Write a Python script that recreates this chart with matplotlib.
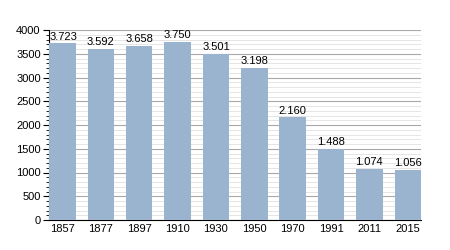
import matplotlib
matplotlib.use("Agg")
import matplotlib.pyplot as plt
from matplotlib.ticker import MultipleLocator

plt.rcParams['font.family'] = ['Liberation Sans', 'DejaVu Sans']

years = ['1857', '1877', '1897', '1910', '1930', '1950', '1970', '1991', '2011', '2015']
population = [3723, 3592, 3658, 3750, 3501, 3198, 2160, 1488, 1074, 1056]
labels = ['3.723', '3.592', '3.658', '3.750', '3.501', '3.198', '2.160', '1.488', '1.074', '1.056']

fig = plt.figure(figsize=(4.5, 2.5), dpi=100)
ax = fig.add_axes([0.109, 0.12, 0.827, 0.76])

x = range(len(years))
ax.bar(x, population, width=0.69, color='#9AB3CE', zorder=3)

for i, (v, t) in enumerate(zip(population, labels)):
    if i == 0:
        ax.text(i - 0.33, v + 20, t, ha='left', va='bottom', fontsize=8, zorder=4)
    else:
        ax.text(i, v + 40, t, ha='center', va='bottom', fontsize=8, zorder=4)

ax.set_xlim(-0.35, 9.35)
ax.set_ylim(0, 4000)
ax.set_xticks(list(x))
ax.set_xticklabels(years)
ax.yaxis.set_major_locator(MultipleLocator(500))
ax.yaxis.set_minor_locator(MultipleLocator(100))
ax.grid(axis='y', which='major', color='#a8a8a8', linewidth=0.8, zorder=0)
ax.grid(axis='y', which='minor', color='#e0e0e0', linewidth=0.6, zorder=0)

ax.tick_params(axis='x', length=0, labelsize=8, pad=3)
ax.tick_params(axis='y', which='major', length=4, labelsize=8, pad=2)
ax.tick_params(axis='y', which='minor', length=2)
for s in ['top', 'right']:
    ax.spines[s].set_visible(False)
ax.spines['left'].set_linewidth(0.8)
ax.spines['bottom'].set_linewidth(0.8)

fig.savefig('out.png', dpi=100)
